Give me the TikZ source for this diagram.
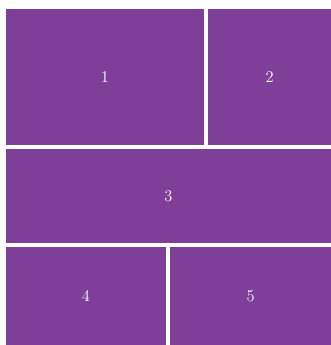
\documentclass[tikz,border=0pt]{standalone}
\begin{document}
\begin{tikzpicture}[x=1cm,y=1cm,
  panel/.style={anchor=south west, fill=TilePurple, draw=none, inner sep=0pt, text=white, font=\fontsize{14}{16}\selectfont}]
\definecolor{TilePurple}{HTML}{7F3F98}
\useasboundingbox (0,0) rectangle (9.93,10.35);
\node[panel, minimum width=5.96cm, minimum height=4.08cm] (tile1) at (0.16,5.99) {1};
\node[panel, minimum width=3.69cm, minimum height=4.08cm] (tile2) at (6.24,5.99) {2};
\node[panel, minimum width=9.77cm, minimum height=2.83cm] (tile3) at (0.16,3.05) {3};
\node[panel, minimum width=4.82cm, minimum height=2.94cm] (tile4) at (0.16,0) {4};
\node[panel, minimum width=4.83cm, minimum height=2.94cm] (tile5) at (5.10,0) {5};
\end{tikzpicture}
\end{document}
